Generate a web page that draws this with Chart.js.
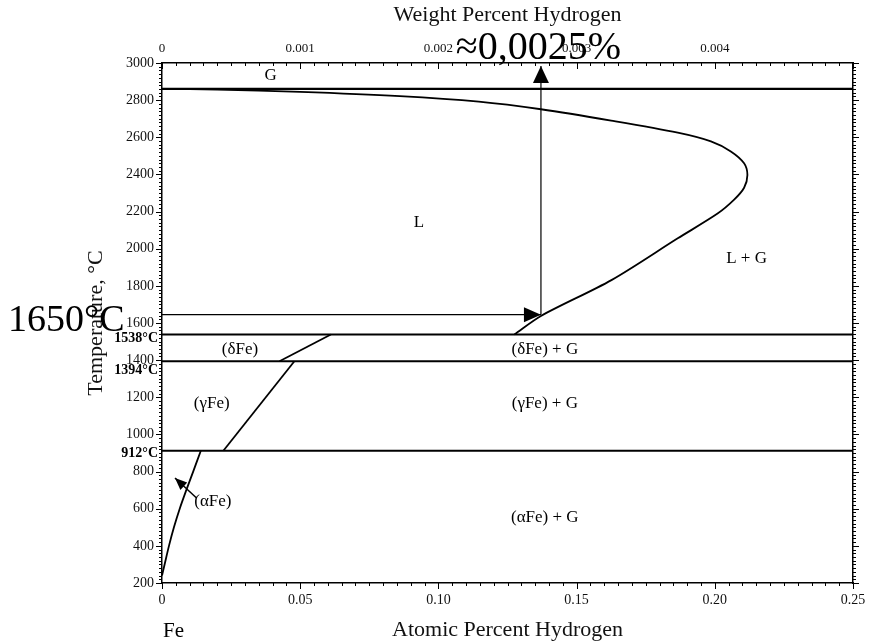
<!DOCTYPE html>
<html><head><meta charset="utf-8">
<script src="https://cdn.jsdelivr.net/npm/chart.js@4.4.0/dist/chart.umd.min.js"></script>
<style>html,body{margin:0;padding:0;background:#fff;}#wrap{width:870px;height:641px;}</style>
</head><body><div id="wrap"><canvas id="c" width="870" height="641"></canvas></div>
<script>
const FONT = "'Liberation Serif','Times New Roman',serif";
// axes
const xTicks = [0, 0.05, 0.10, 0.15, 0.20, 0.25];
const xTickLabels = ['0', '0.05', '0.10', '0.15', '0.20', '0.25'];
const x2Ticks = [0, 0.001, 0.002, 0.003, 0.004];
const x2TickLabels = ['0', '0.001', '0.002', '0.003', '0.004'];
const yTicks = [200, 400, 600, 800, 1000, 1200, 1400, 1600, 1800, 2000, 2200, 2400, 2600, 2800, 3000];
const yTickLabels = ['200', '400', '600', '800', '1000', '1200', '1400', '1600', '1800', '2000', '2200', '2400', '2600', '2800', '3000'];
const specialTemps = [1538, 1394, 912];
const specialLabels = ['1538°C', '1394°C', '912°C'];
// isotherms (°C)
const isoTemps = [2861, 1538, 1394, 912];
// liquidus L / L+G (at.% H, °C)
const liqX = [0, 0.02, 0.05, 0.086, 0.1146, 0.1371, 0.1625, 0.1866, 0.1986, 0.2058, 0.2106, 0.2118, 0.2106, 0.2070, 0.2010, 0.1866, 0.1626, 0.1371, 0.1275];
const liqT = [2861, 2857, 2845, 2822, 2792, 2751, 2690, 2625, 2578, 2524, 2460, 2397, 2328, 2264, 2189, 2056, 1831, 1638, 1538];
// solvus lines
const deltaX = [0.0611, 0.0425];
const deltaT = [1538, 1394];
const gammaX = [0.0479, 0.0222];
const gammaT = [1394, 912];
const alphaX = [0.01405, 0.01128, 0.00879, 0.00641, 0.00432, 0.00252, 0.00094, 0];
const alphaT = [912, 800, 700, 600, 500, 400, 300, 240];
// region labels
const regionLabels = ['G', 'L', 'L + G', '(δFe)', '(δFe) + G', '(γFe)', '(γFe) + G', '(αFe)', '(αFe) + G'];
const regionX = [0.0393, 0.093, 0.2115, 0.0282, 0.1385, 0.018, 0.1385, 0.0184, 0.1385];
const regionT = [2935, 2140, 1946, 1458, 1458, 1167, 1167, 637, 555];
// arrows
const arrowHX = [0, 0.1371];
const arrowHT = [1645, 1645];
const arrowVX = [0.1371, 0.1371];
const arrowVT = [1645, 2984];
const alphaArrowX = [0.0125, 0.0047];
const alphaArrowT = [658, 765];
// annotations
const noteWt = '≈0,0025%';
const noteT = '1650°C';

const pts = (xs, ts) => xs.map((x, i) => ({x: x, y: ts[i]}));
const base = {showLine: true, pointRadius: 0, borderColor: '#000', fill: false, xAxisID: 'x', yAxisID: 'y'};
const datasets = [
  Object.assign({}, base, {data: pts(liqX, liqT), tension: 0.3, borderWidth: 1.8}),
  ...isoTemps.map(t => Object.assign({}, base, {data: [{x: xTicks[0], y: t}, {x: xTicks[xTicks.length - 1], y: t}], borderWidth: 2.2})),
  Object.assign({}, base, {data: pts(deltaX, deltaT), borderWidth: 1.8}),
  Object.assign({}, base, {data: pts(gammaX, gammaT), borderWidth: 1.8}),
  Object.assign({}, base, {data: pts(alphaX, alphaT), tension: 0.3, borderWidth: 1.8})
];

function arrowHead(ctx, x0, y0, x1, y1, len, half) {
  const a = Math.atan2(y1 - y0, x1 - x0);
  ctx.beginPath();
  ctx.moveTo(x1, y1);
  ctx.lineTo(x1 - len * Math.cos(a) + half * Math.sin(a), y1 - len * Math.sin(a) - half * Math.cos(a));
  ctx.lineTo(x1 - len * Math.cos(a) - half * Math.sin(a), y1 - len * Math.sin(a) + half * Math.cos(a));
  ctx.closePath();
  ctx.fill();
}
function drawArrow(ctx, sx, sy, xs, ts, len, half, lw) {
  const x0 = sx.getPixelForValue(xs[0]), y0 = sy.getPixelForValue(ts[0]);
  const x1 = sx.getPixelForValue(xs[1]), y1 = sy.getPixelForValue(ts[1]);
  ctx.lineWidth = lw;
  ctx.beginPath(); ctx.moveTo(x0, y0); ctx.lineTo(x1, y1); ctx.stroke();
  arrowHead(ctx, x0, y0, x1, y1, len, half);
}

const decor = {
  id: 'decor',
  afterDraw(chart) {
    const {ctx, chartArea: a} = chart;
    const {x, y, x2} = chart.scales;
    ctx.save();
    ctx.strokeStyle = '#000'; ctx.fillStyle = '#000'; ctx.lineWidth = 1;
    ctx.beginPath();
    for (let t = yTicks[0]; t <= yTicks[yTicks.length - 1] + 0.1; t += 20) {
      const py = Math.round(y.getPixelForValue(t)) + 0.5;
      const L = (Math.round(t) % 200 === 0) ? 6 : 3;
      ctx.moveTo(a.left, py); ctx.lineTo(a.left - L, py);
      ctx.moveTo(a.right, py); ctx.lineTo(a.right + L, py);
    }
    for (let i = 0; i <= 50; i++) {
      const px = Math.round(x.getPixelForValue(i * 0.005)) + 0.5;
      const L = (i % 10 === 0) ? 6 : 3;
      ctx.moveTo(px, a.bottom); ctx.lineTo(px, a.bottom + L);
    }
    for (let i = 0; i <= 50; i++) {
      const px = Math.round(x2.getPixelForValue(i * 0.0001)) + 0.5;
      const L = (i % 10 === 0) ? 6 : 3;
      ctx.moveTo(px, a.top); ctx.lineTo(px, a.top + L);
    }
    ctx.stroke();
    // special isotherm labels
    ctx.font = 'bold 14px ' + FONT;
    ctx.textAlign = 'right'; ctx.textBaseline = 'middle';
    const offs = [4, 9, 3];
    specialTemps.forEach((t, i) => ctx.fillText(specialLabels[i], a.left - 4, y.getPixelForValue(t) + offs[i]));
    // region labels
    ctx.font = '17px ' + FONT;
    ctx.textAlign = 'center';
    regionLabels.forEach((s, i) => ctx.fillText(s, x.getPixelForValue(regionX[i]), y.getPixelForValue(regionT[i])));
    // arrows
    drawArrow(ctx, x, y, arrowHX, arrowHT, 17, 7.5, 1.2);
    drawArrow(ctx, x, y, arrowVX, arrowVT, 17, 8, 1.2);
    drawArrow(ctx, x, y, alphaArrowX, alphaArrowT, 12, 5, 1.5);
    // "Fe" under axis origin
    ctx.font = '21px ' + FONT;
    ctx.textAlign = 'left'; ctx.textBaseline = 'alphabetic';
    ctx.fillText('Fe', x.getPixelForValue(0) + 1, 637);
    // big annotations
    ctx.font = '40px ' + FONT;
    ctx.textAlign = 'center';
    ctx.fillText(noteWt, x.getPixelForValue(0.1362), a.top - 4);
    ctx.font = '38px ' + FONT;
    ctx.textAlign = 'left';
    ctx.fillText(noteT, 8, y.getPixelForValue(1650) + 17);
    ctx.restore();
  }
};

const noPad = s => { s.paddingLeft = 0; s.paddingRight = 0; s.paddingTop = 0; s.paddingBottom = 0; };

new Chart(document.getElementById('c'), {
  type: 'scatter',
  data: {datasets: datasets},
  plugins: [decor],
  options: {
    responsive: false, animation: false, devicePixelRatio: 1,
    layout: {padding: 0},
    plugins: {legend: {display: false}, tooltip: {enabled: false}, title: {display: false}},
    scales: {
      x: {
        type: 'linear', position: 'bottom', min: 0, max: 0.25,
        afterBuildTicks: s => { s.ticks = xTicks.map(v => ({value: v})); },
        afterFit: s => { s.height = 58; noPad(s); },
        ticks: {callback: (v, i) => xTickLabels[i], color: '#111', font: {family: FONT, size: 14}, padding: 9, maxRotation: 0, autoSkip: false},
        grid: {drawOnChartArea: false, drawTicks: false},
        border: {display: true, color: '#000', width: 1.5},
        title: {display: true, text: 'Atomic Percent Hydrogen', color: '#111', font: {family: FONT, size: 22}, padding: {top: 0, bottom: -2}}
      },
      x2: {
        type: 'linear', position: 'top', min: 0, max: 0.005,
        afterBuildTicks: s => { s.ticks = x2Ticks.map(v => ({value: v})); },
        afterFit: s => { s.height = 63; noPad(s); },
        ticks: {callback: (v, i) => x2TickLabels[i], color: '#111', font: {family: FONT, size: 13}, padding: 7, maxRotation: 0, autoSkip: false},
        grid: {drawOnChartArea: false, drawTicks: false},
        border: {display: true, color: '#000', width: 1.5},
        title: {display: true, text: 'Weight Percent Hydrogen', color: '#111', font: {family: FONT, size: 22}, padding: {top: 2, bottom: 0}}
      },
      y: {
        type: 'linear', position: 'left', min: 200, max: 3000,
        afterBuildTicks: s => { s.ticks = yTicks.map(v => ({value: v})); },
        afterFit: s => { s.width = 162; noPad(s); },
        ticks: {callback: (v, i) => yTickLabels[i], color: '#111', font: {family: FONT, size: 14}, padding: 8, autoSkip: false},
        grid: {drawOnChartArea: false, drawTicks: false},
        border: {display: true, color: '#000', width: 1.5},
        title: {display: true, text: 'Temperature, °C', color: '#111', font: {family: FONT, size: 22}, padding: {top: 83, bottom: 0}}
      },
      y2: {
        type: 'linear', position: 'right', min: 200, max: 3000,
        afterFit: s => { s.width = 17; noPad(s); },
        ticks: {display: false},
        grid: {drawOnChartArea: false, drawTicks: false},
        border: {display: true, color: '#000', width: 1.5}
      }
    }
  }
});
</script></body></html>
